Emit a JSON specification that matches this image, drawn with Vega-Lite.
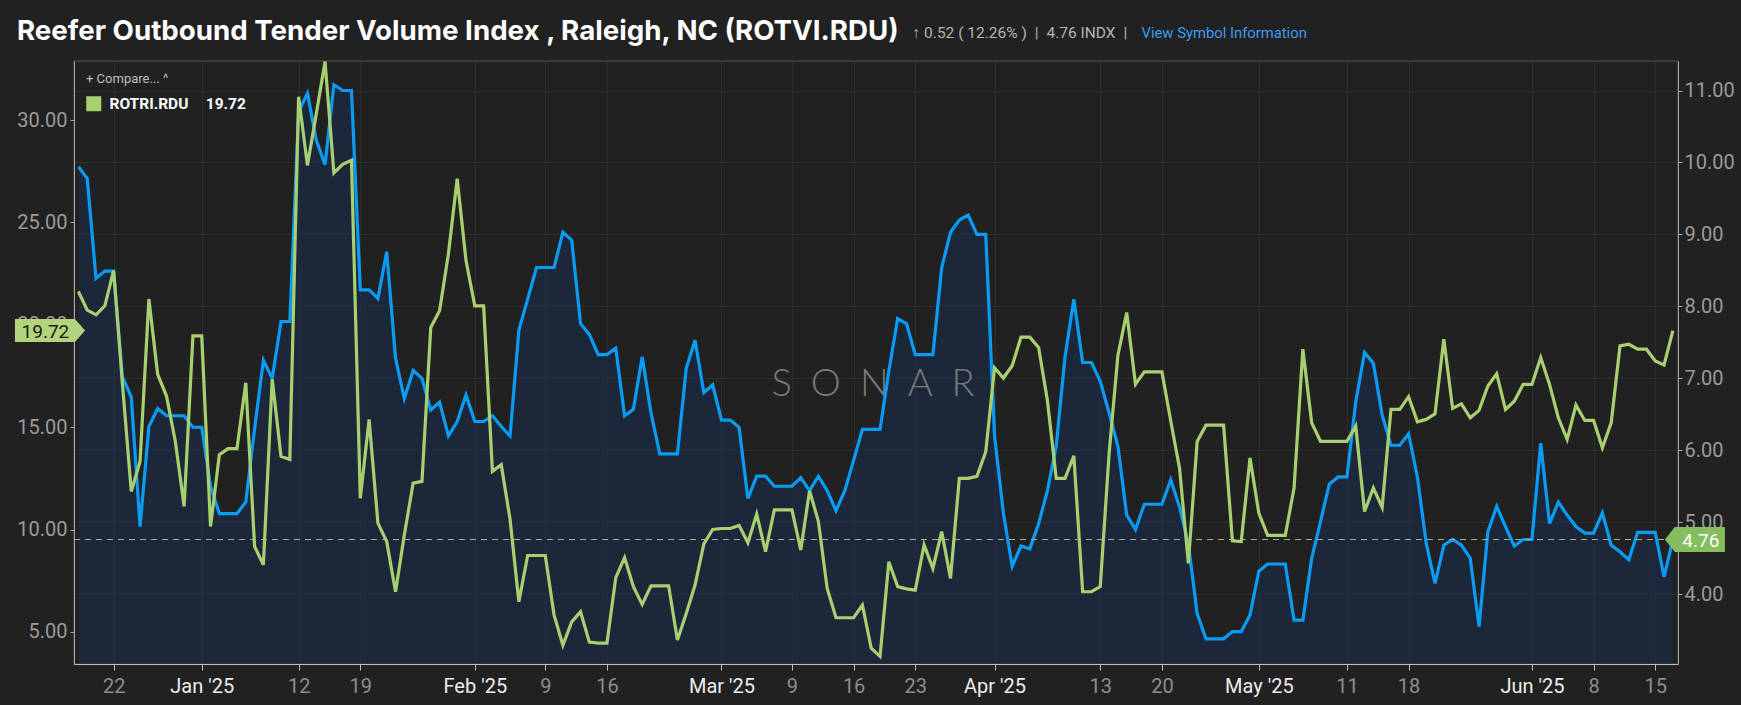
{
  "$schema": "https://vega.github.io/schema/vega-lite/v6.json",
  "width": 1604,
  "height": 603,
  "autosize": {"type": "none"},
  "padding": {"left": 74, "top": 61, "right": 63, "bottom": 41},
  "background": "#212121",
  "title": {
    "text": "Reefer Outbound Tender Volume Index , Raleigh, NC (ROTVI.RDU)",
    "anchor": "start",
    "frame": "group",
    "dx": -57,
    "offset": -20.5,
    "font": "Inter",
    "fontSize": 27.7,
    "fontWeight": 700,
    "color": "#ffffff"
  },
  "data": {
    "values": [
      {"date": "2024-12-18", "rotvi": 9.94, "rotri": 21.63},
      {"date": "2024-12-19", "rotvi": 9.78, "rotri": 20.72},
      {"date": "2024-12-20", "rotvi": 8.39, "rotri": 20.49},
      {"date": "2024-12-21", "rotvi": 8.49, "rotri": 20.93},
      {"date": "2024-12-22", "rotvi": 8.49, "rotri": 22.65},
      {"date": "2024-12-23", "rotvi": 7.02, "rotri": 17.10},
      {"date": "2024-12-24", "rotvi": 6.74, "rotri": 11.86},
      {"date": "2024-12-25", "rotvi": 4.94, "rotri": 13.33},
      {"date": "2024-12-26", "rotvi": 6.33, "rotri": 21.26},
      {"date": "2024-12-27", "rotvi": 6.58, "rotri": 17.58},
      {"date": "2024-12-28", "rotvi": 6.48, "rotri": 16.52},
      {"date": "2024-12-29", "rotvi": 6.48, "rotri": 14.31},
      {"date": "2024-12-30", "rotvi": 6.48, "rotri": 11.13},
      {"date": "2024-12-31", "rotvi": 6.32, "rotri": 19.46},
      {"date": "2025-01-01", "rotvi": 6.32, "rotri": 19.46},
      {"date": "2025-01-02", "rotvi": 5.50, "rotri": 10.15},
      {"date": "2025-01-03", "rotvi": 5.12, "rotri": 13.66},
      {"date": "2025-01-04", "rotvi": 5.12, "rotri": 13.95},
      {"date": "2025-01-05", "rotvi": 5.12, "rotri": 13.95},
      {"date": "2025-01-06", "rotvi": 5.28, "rotri": 17.17},
      {"date": "2025-01-07", "rotvi": 6.30, "rotri": 9.17},
      {"date": "2025-01-08", "rotvi": 7.25, "rotri": 8.27},
      {"date": "2025-01-09", "rotvi": 7.00, "rotri": 17.34},
      {"date": "2025-01-10", "rotvi": 7.79, "rotri": 13.58},
      {"date": "2025-01-11", "rotvi": 7.79, "rotri": 13.42},
      {"date": "2025-01-12", "rotvi": 10.71, "rotri": 31.14},
      {"date": "2025-01-13", "rotvi": 10.96, "rotri": 27.79},
      {"date": "2025-01-14", "rotvi": 10.31, "rotri": 30.30},
      {"date": "2025-01-15", "rotvi": 9.97, "rotri": 32.86},
      {"date": "2025-01-16", "rotvi": 11.08, "rotri": 27.42},
      {"date": "2025-01-17", "rotvi": 11.00, "rotri": 27.84},
      {"date": "2025-01-18", "rotvi": 11.00, "rotri": 28.04},
      {"date": "2025-01-19", "rotvi": 8.23, "rotri": 11.53},
      {"date": "2025-01-20", "rotvi": 8.23, "rotri": 15.38},
      {"date": "2025-01-21", "rotvi": 8.11, "rotri": 10.31},
      {"date": "2025-01-22", "rotvi": 8.76, "rotri": 9.41},
      {"date": "2025-01-23", "rotvi": 7.28, "rotri": 6.96},
      {"date": "2025-01-24", "rotvi": 6.72, "rotri": 9.74},
      {"date": "2025-01-25", "rotvi": 7.11, "rotri": 12.27},
      {"date": "2025-01-26", "rotvi": 7.00, "rotri": 12.35},
      {"date": "2025-01-27", "rotvi": 6.56, "rotri": 19.87},
      {"date": "2025-01-28", "rotvi": 6.67, "rotri": 20.69},
      {"date": "2025-01-29", "rotvi": 6.20, "rotri": 23.46},
      {"date": "2025-01-30", "rotvi": 6.40, "rotri": 27.14},
      {"date": "2025-01-31", "rotvi": 6.77, "rotri": 23.14},
      {"date": "2025-02-01", "rotvi": 6.40, "rotri": 20.93},
      {"date": "2025-02-02", "rotvi": 6.40, "rotri": 20.93},
      {"date": "2025-02-03", "rotvi": 6.48, "rotri": 12.84},
      {"date": "2025-02-04", "rotvi": 6.33, "rotri": 13.17},
      {"date": "2025-02-05", "rotvi": 6.20, "rotri": 10.50},
      {"date": "2025-02-06", "rotvi": 7.67, "rotri": 6.47},
      {"date": "2025-02-07", "rotvi": 8.10, "rotri": 8.73},
      {"date": "2025-02-08", "rotvi": 8.54, "rotri": 8.73},
      {"date": "2025-02-09", "rotvi": 8.54, "rotri": 8.73},
      {"date": "2025-02-10", "rotvi": 8.54, "rotri": 5.82},
      {"date": "2025-02-11", "rotvi": 9.03, "rotri": 4.35},
      {"date": "2025-02-12", "rotvi": 8.92, "rotri": 5.49},
      {"date": "2025-02-13", "rotvi": 7.76, "rotri": 5.98},
      {"date": "2025-02-14", "rotvi": 7.61, "rotri": 4.50},
      {"date": "2025-02-15", "rotvi": 7.33, "rotri": 4.45},
      {"date": "2025-02-16", "rotvi": 7.33, "rotri": 4.45},
      {"date": "2025-02-17", "rotvi": 7.42, "rotri": 7.65},
      {"date": "2025-02-18", "rotvi": 6.48, "rotri": 8.63},
      {"date": "2025-02-19", "rotvi": 6.57, "rotri": 7.21},
      {"date": "2025-02-20", "rotvi": 7.30, "rotri": 6.34},
      {"date": "2025-02-21", "rotvi": 6.52, "rotri": 7.25},
      {"date": "2025-02-22", "rotvi": 5.95, "rotri": 7.25},
      {"date": "2025-02-23", "rotvi": 5.95, "rotri": 7.25},
      {"date": "2025-02-24", "rotvi": 5.95, "rotri": 4.60},
      {"date": "2025-02-25", "rotvi": 7.14, "rotri": 5.90},
      {"date": "2025-02-26", "rotvi": 7.53, "rotri": 7.29},
      {"date": "2025-02-27", "rotvi": 6.80, "rotri": 9.30},
      {"date": "2025-02-28", "rotvi": 6.91, "rotri": 10.00},
      {"date": "2025-03-01", "rotvi": 6.42, "rotri": 10.05},
      {"date": "2025-03-02", "rotvi": 6.42, "rotri": 10.05},
      {"date": "2025-03-03", "rotvi": 6.32, "rotri": 10.20},
      {"date": "2025-03-04", "rotvi": 5.33, "rotri": 9.35},
      {"date": "2025-03-05", "rotvi": 5.64, "rotri": 10.75},
      {"date": "2025-03-06", "rotvi": 5.64, "rotri": 8.92},
      {"date": "2025-03-07", "rotvi": 5.50, "rotri": 10.96},
      {"date": "2025-03-08", "rotvi": 5.50, "rotri": 10.96},
      {"date": "2025-03-09", "rotvi": 5.50, "rotri": 10.96},
      {"date": "2025-03-10", "rotvi": 5.62, "rotri": 9.00},
      {"date": "2025-03-11", "rotvi": 5.44, "rotri": 11.90},
      {"date": "2025-03-12", "rotvi": 5.64, "rotri": 10.40},
      {"date": "2025-03-13", "rotvi": 5.44, "rotri": 7.12},
      {"date": "2025-03-14", "rotvi": 5.16, "rotri": 5.69},
      {"date": "2025-03-15", "rotvi": 5.44, "rotri": 5.69},
      {"date": "2025-03-16", "rotvi": 5.86, "rotri": 5.69},
      {"date": "2025-03-17", "rotvi": 6.29, "rotri": 6.31},
      {"date": "2025-03-18", "rotvi": 6.29, "rotri": 4.20},
      {"date": "2025-03-19", "rotvi": 6.29, "rotri": 3.80},
      {"date": "2025-03-20", "rotvi": 7.10, "rotri": 8.43},
      {"date": "2025-03-21", "rotvi": 7.83, "rotri": 7.21},
      {"date": "2025-03-22", "rotvi": 7.76, "rotri": 7.10},
      {"date": "2025-03-23", "rotvi": 7.33, "rotri": 7.04},
      {"date": "2025-03-24", "rotvi": 7.33, "rotri": 9.25},
      {"date": "2025-03-25", "rotvi": 7.33, "rotri": 8.10},
      {"date": "2025-03-26", "rotvi": 8.54, "rotri": 9.90},
      {"date": "2025-03-27", "rotvi": 9.03, "rotri": 7.61},
      {"date": "2025-03-28", "rotvi": 9.20, "rotri": 12.50},
      {"date": "2025-03-29", "rotvi": 9.27, "rotri": 12.50},
      {"date": "2025-03-30", "rotvi": 9.00, "rotri": 12.60},
      {"date": "2025-03-31", "rotvi": 9.00, "rotri": 13.80},
      {"date": "2025-04-01", "rotvi": 6.20, "rotri": 17.90},
      {"date": "2025-04-02", "rotvi": 5.13, "rotri": 17.40},
      {"date": "2025-04-03", "rotvi": 4.39, "rotri": 18.00},
      {"date": "2025-04-04", "rotvi": 4.67, "rotri": 19.40},
      {"date": "2025-04-05", "rotvi": 4.63, "rotri": 19.40},
      {"date": "2025-04-06", "rotvi": 4.98, "rotri": 18.90},
      {"date": "2025-04-07", "rotvi": 5.44, "rotri": 16.30},
      {"date": "2025-04-08", "rotvi": 6.06, "rotri": 12.50},
      {"date": "2025-04-09", "rotvi": 7.30, "rotri": 12.50},
      {"date": "2025-04-10", "rotvi": 8.10, "rotri": 13.60},
      {"date": "2025-04-11", "rotvi": 7.22, "rotri": 6.96},
      {"date": "2025-04-12", "rotvi": 7.22, "rotri": 6.96},
      {"date": "2025-04-13", "rotvi": 6.96, "rotri": 7.21},
      {"date": "2025-04-14", "rotvi": 6.52, "rotri": 13.70},
      {"date": "2025-04-15", "rotvi": 6.06, "rotri": 18.50},
      {"date": "2025-04-16", "rotvi": 5.10, "rotri": 20.60},
      {"date": "2025-04-17", "rotvi": 4.90, "rotri": 17.10},
      {"date": "2025-04-18", "rotvi": 5.25, "rotri": 17.70},
      {"date": "2025-04-19", "rotvi": 5.25, "rotri": 17.70},
      {"date": "2025-04-20", "rotvi": 5.25, "rotri": 17.70},
      {"date": "2025-04-21", "rotvi": 5.59, "rotri": 15.30},
      {"date": "2025-04-22", "rotvi": 5.21, "rotri": 13.00},
      {"date": "2025-04-23", "rotvi": 4.70, "rotri": 8.35},
      {"date": "2025-04-24", "rotvi": 3.73, "rotri": 14.30},
      {"date": "2025-04-25", "rotvi": 3.38, "rotri": 15.10},
      {"date": "2025-04-26", "rotvi": 3.38, "rotri": 15.10},
      {"date": "2025-04-27", "rotvi": 3.38, "rotri": 15.10},
      {"date": "2025-04-28", "rotvi": 3.48, "rotri": 9.45},
      {"date": "2025-04-29", "rotvi": 3.48, "rotri": 9.41},
      {"date": "2025-04-30", "rotvi": 3.71, "rotri": 13.50},
      {"date": "2025-05-01", "rotvi": 4.32, "rotri": 10.80},
      {"date": "2025-05-02", "rotvi": 4.42, "rotri": 9.71},
      {"date": "2025-05-03", "rotvi": 4.42, "rotri": 9.71},
      {"date": "2025-05-04", "rotvi": 4.42, "rotri": 9.71},
      {"date": "2025-05-05", "rotvi": 3.64, "rotri": 12.03},
      {"date": "2025-05-06", "rotvi": 3.64, "rotri": 18.81},
      {"date": "2025-05-07", "rotvi": 4.50, "rotri": 15.21},
      {"date": "2025-05-08", "rotvi": 5.01, "rotri": 14.31},
      {"date": "2025-05-09", "rotvi": 5.53, "rotri": 14.31},
      {"date": "2025-05-10", "rotvi": 5.63, "rotri": 14.31},
      {"date": "2025-05-11", "rotvi": 5.63, "rotri": 14.31},
      {"date": "2025-05-12", "rotvi": 6.67, "rotri": 15.05},
      {"date": "2025-05-13", "rotvi": 7.36, "rotri": 10.88},
      {"date": "2025-05-14", "rotvi": 7.21, "rotri": 12.03},
      {"date": "2025-05-15", "rotvi": 6.49, "rotri": 11.08},
      {"date": "2025-05-16", "rotvi": 6.07, "rotri": 15.87},
      {"date": "2025-05-17", "rotvi": 6.07, "rotri": 15.87},
      {"date": "2025-05-18", "rotvi": 6.23, "rotri": 16.49},
      {"date": "2025-05-19", "rotvi": 5.63, "rotri": 15.26},
      {"date": "2025-05-20", "rotvi": 4.71, "rotri": 15.38},
      {"date": "2025-05-21", "rotvi": 4.15, "rotri": 15.65},
      {"date": "2025-05-22", "rotvi": 4.68, "rotri": 19.30},
      {"date": "2025-05-23", "rotvi": 4.76, "rotri": 15.92},
      {"date": "2025-05-24", "rotvi": 4.68, "rotri": 16.14},
      {"date": "2025-05-25", "rotvi": 4.50, "rotri": 15.46},
      {"date": "2025-05-26", "rotvi": 3.55, "rotri": 15.82},
      {"date": "2025-05-27", "rotvi": 4.87, "rotri": 17.01},
      {"date": "2025-05-28", "rotvi": 5.22, "rotri": 17.61},
      {"date": "2025-05-29", "rotvi": 4.94, "rotri": 15.87},
      {"date": "2025-05-30", "rotvi": 4.67, "rotri": 16.27},
      {"date": "2025-05-31", "rotvi": 4.76, "rotri": 17.09},
      {"date": "2025-06-01", "rotvi": 4.76, "rotri": 17.09},
      {"date": "2025-06-02", "rotvi": 6.10, "rotri": 18.40},
      {"date": "2025-06-03", "rotvi": 4.98, "rotri": 17.09},
      {"date": "2025-06-04", "rotvi": 5.28, "rotri": 15.46},
      {"date": "2025-06-05", "rotvi": 5.10, "rotri": 14.40},
      {"date": "2025-06-06", "rotvi": 4.94, "rotri": 16.08},
      {"date": "2025-06-07", "rotvi": 4.85, "rotri": 15.33},
      {"date": "2025-06-08", "rotvi": 4.85, "rotri": 15.33},
      {"date": "2025-06-09", "rotvi": 5.13, "rotri": 13.99},
      {"date": "2025-06-10", "rotvi": 4.68, "rotri": 15.21},
      {"date": "2025-06-11", "rotvi": 4.59, "rotri": 18.97},
      {"date": "2025-06-12", "rotvi": 4.48, "rotri": 19.05},
      {"date": "2025-06-13", "rotvi": 4.86, "rotri": 18.81},
      {"date": "2025-06-14", "rotvi": 4.86, "rotri": 18.81},
      {"date": "2025-06-15", "rotvi": 4.86, "rotri": 18.24},
      {"date": "2025-06-16", "rotvi": 4.24, "rotri": 18.04},
      {"date": "2025-06-17", "rotvi": 4.76, "rotri": 19.72}
    ]
  },
  "layer": [
    {
      "encoding": {
        "x": {
          "field": "date",
          "type": "temporal",
          "title": null,
          "scale": {
            "type": "utc",
            "domain": [
              {"year": 2024, "month": 12, "date": 17, "hours": 12, "utc": true},
              {"year": 2025, "month": 6, "date": 17, "hours": 14, "utc": true}
            ]
          },
          "axis": {
            "values": [
              {"year": 2024, "month": 12, "date": 22, "utc": true},
              {"year": 2025, "month": 1, "date": 1, "utc": true},
              {"year": 2025, "month": 1, "date": 12, "utc": true},
              {"year": 2025, "month": 1, "date": 19, "utc": true},
              {"year": 2025, "month": 2, "date": 1, "utc": true},
              {"year": 2025, "month": 2, "date": 9, "utc": true},
              {"year": 2025, "month": 2, "date": 16, "utc": true},
              {"year": 2025, "month": 3, "date": 1, "utc": true},
              {"year": 2025, "month": 3, "date": 9, "utc": true},
              {"year": 2025, "month": 3, "date": 16, "utc": true},
              {"year": 2025, "month": 3, "date": 23, "utc": true},
              {"year": 2025, "month": 4, "date": 1, "utc": true},
              {"year": 2025, "month": 4, "date": 13, "utc": true},
              {"year": 2025, "month": 4, "date": 20, "utc": true},
              {"year": 2025, "month": 5, "date": 1, "utc": true},
              {"year": 2025, "month": 5, "date": 11, "utc": true},
              {"year": 2025, "month": 5, "date": 18, "utc": true},
              {"year": 2025, "month": 6, "date": 1, "utc": true},
              {"year": 2025, "month": 6, "date": 8, "utc": true},
              {"year": 2025, "month": 6, "date": 15, "utc": true}
            ],
            "labelExpr": "utcdate(datum.value) == 1 ? utcFormat(datum.value, \"%b '%y\") : utcFormat(datum.value, '%-d')",
            "labelColor": {"condition": {"test": "utcdate(datum.value) == 1", "value": "#ededed"}, "value": "#8d8d8d"},
            "labelFontSize": 20,
            "labelPadding": 6,
            "labelOverlap": false,
            "labelFlush": false,
            "tickSize": 6,
            "tickColor": "#bdbdbd",
            "domainColor": "#bdbdbd",
            "grid": true,
            "gridColor": "#2e2e2e"
          }
        },
        "y": {
          "field": "rotvi",
          "type": "quantitative",
          "title": null,
          "scale": {"domain": [3.03, 11.41], "nice": false, "zero": false},
          "axis": {
            "orient": "right",
            "values": [4, 5, 6, 7, 8, 9, 10, 11],
            "format": ".2f",
            "labelFontSize": 20,
            "labelColor": "#9b9b9b",
            "labelPadding": 2,
            "tickSize": 4,
            "tickColor": "#a8a8a8",
            "domainColor": "#a8a8a8",
            "grid": true,
            "gridColor": "#2e2e2e",
            "title": "View Symbol Information",
            "titleX": -537,
            "titleY": -24,
            "titleAngle": 0,
            "titleAlign": "left",
            "titleBaseline": "alphabetic",
            "titleFont": "Roboto",
            "titleFontSize": 14.8,
            "titleFontWeight": "normal",
            "titleColor": "#3d9bf0"
          }
        }
      },
      "layer": [
        {
          "mark": {"type": "area", "color": "#1a3050", "opacity": 0.55, "clip": true},
          "encoding": {"y2": {"datum": 3.03}}
        },
        {
          "transform": [{"filter": "time(datum.date) == utc(2025, 5, 17)"}],
          "mark": {"type": "text", "text": "S\u2002O\u2002N\u2002A\u2002R", "font": "Lato", "fontSize": 38, "fontWeight": 300, "color": "#7a7a7a", "align": "center", "baseline": "middle"},
          "encoding": {
            "x": {"datum": {"year": 2025, "month": 3, "date": 18, "hours": 5, "utc": true}, "type": "temporal", "title": null},
            "y": {"datum": 6.91, "type": "quantitative", "title": null}
          }
        },
        {
          "mark": {"type": "line", "color": "#0a9cf5", "strokeWidth": 3.2, "clip": true}
        },
        {
          "transform": [{"filter": "time(datum.date) == utc(2025, 5, 17)"}],
          "mark": {"type": "rule", "color": "#9fae8f", "strokeDash": [6, 5], "strokeWidth": 1},
          "encoding": {
            "x": {"datum": {"year": 2024, "month": 12, "date": 17, "hours": 12, "utc": true}, "type": "temporal", "title": null},
            "x2": {"datum": {"year": 2025, "month": 6, "date": 17, "hours": 14, "utc": true}}
          }
        },
        {
          "transform": [{"filter": "time(datum.date) == utc(2025, 5, 17)"}],
          "mark": {"type": "point", "shape": "M-0.32,0L0.08,-0.5L2.08,-0.5L2.08,0.5L0.08,0.5Z", "size": 2500, "filled": true, "color": "#86bd5e", "opacity": 1}
        },
        {
          "transform": [{"filter": "time(datum.date) == utc(2025, 5, 17)"}],
          "mark": {"type": "text", "dx": 28, "dy": 1, "font": "Roboto", "fontSize": 19, "color": "#ffffff", "align": "center", "baseline": "middle"},
          "encoding": {"text": {"field": "rotvi", "format": ".2f"}}
        }
      ]
    },
    {
      "encoding": {
        "x": {
          "field": "date",
          "type": "temporal",
          "title": null,
          "scale": {
            "type": "utc",
            "domain": [
              {"year": 2024, "month": 12, "date": 17, "hours": 12, "utc": true},
              {"year": 2025, "month": 6, "date": 17, "hours": 14, "utc": true}
            ]
          }
        },
        "y": {
          "field": "rotri",
          "type": "quantitative",
          "title": null,
          "scale": {"domain": [3.43, 32.89], "nice": false, "zero": false},
          "axis": {
            "orient": "left",
            "values": [5, 10, 15, 20, 25, 30],
            "format": ".2f",
            "labelFontSize": 20,
            "labelColor": "#9b9b9b",
            "labelPadding": 3,
            "tickSize": 4,
            "tickColor": "#a8a8a8",
            "domainColor": "#a8a8a8",
            "grid": false,
            "title": "\u2191 0.52 ( 12.26% )\u2002|\u20024.76 INDX\u2002|",
            "titleX": 838,
            "titleY": -24,
            "titleAngle": 0,
            "titleAlign": "left",
            "titleBaseline": "alphabetic",
            "titleFont": "Roboto",
            "titleFontSize": 15.5,
            "titleFontWeight": "normal",
            "titleColor": "#b4b4b4"
          }
        }
      },
      "layer": [
        {
          "mark": {"type": "line", "strokeWidth": 3.2, "clip": true},
          "encoding": {
            "color": {
              "datum": "ROTRI.RDU",
              "type": "nominal",
              "scale": {"range": ["#a8d070"]},
              "legend": {
                "orient": "top-left",
                "offset": 12,
                "title": "+  Compare...  ^",
                "titleFont": "Roboto",
                "titleFontSize": 13,
                "titleFontWeight": "normal",
                "titleColor": "#bdbdbd",
                "titlePadding": 10,
                "labelFont": "Roboto",
                "labelFontSize": 15.5,
                "labelFontWeight": "bold",
                "labelColor": "#ffffff",
                "labelOffset": 8,
                "labelExpr": "'ROTRI.RDU\u2003\u200a19.72'",
                "symbolType": "square",
                "symbolSize": 225,
                "symbolFillColor": "#a8d070",
                "symbolStrokeColor": "#a8d070",
                "symbolStrokeWidth": 0
              }
            }
          }
        },
        {
          "transform": [{"filter": "time(datum.date) == utc(2025, 5, 17)"}],
          "mark": {"type": "point", "shape": "M0.29,0L-0.15,-0.5L-2.76,-0.5L-2.76,0.5L-0.15,0.5Z", "size": 2116, "filled": true, "color": "#b2d47c", "opacity": 1},
          "encoding": {
            "x": {"datum": {"year": 2024, "month": 12, "date": 18, "utc": true}, "type": "temporal", "title": null}
          }
        },
        {
          "transform": [{"filter": "time(datum.date) == utc(2025, 5, 17)"}],
          "mark": {"type": "text", "dx": -33, "dy": 1, "font": "Roboto", "fontSize": 19, "color": "#1b1b1b", "align": "center", "baseline": "middle"},
          "encoding": {
            "x": {"datum": {"year": 2024, "month": 12, "date": 18, "utc": true}, "type": "temporal", "title": null},
            "text": {"field": "rotri", "format": ".2f"}
          }
        }
      ]
    }
  ],
  "resolve": {"scale": {"y": "independent"}},
  "config": {
    "view": {"stroke": "#3a3a3a", "strokeWidth": 2},
    "axis": {"labelFont": "Roboto", "titleFont": "Roboto"},
    "text": {"font": "Roboto"}
  }
}
